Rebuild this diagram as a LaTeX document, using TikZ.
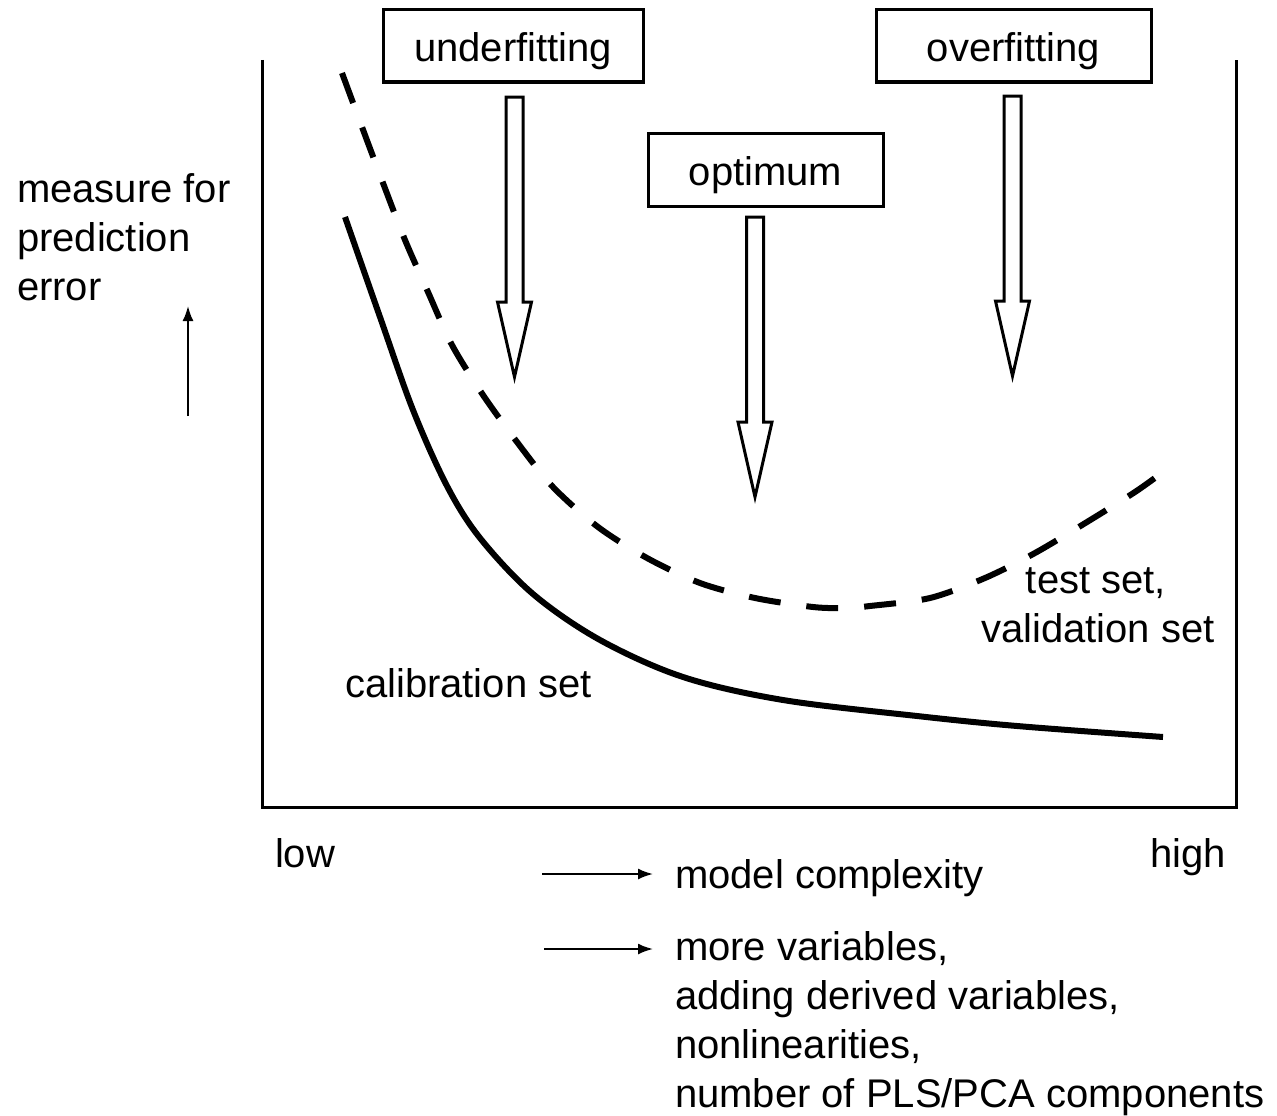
\documentclass[tikz,border=0pt]{standalone}
\usepackage{fontspec}
\setmainfont{Liberation Sans}
\usetikzlibrary{arrows.meta}
\tikzset{
  lbl/.style={anchor=base west, inner sep=0pt, outer sep=0pt},
  clbl/.style={anchor=base, inner sep=0pt, outer sep=0pt},
  tagbox/.style={draw, line width=3pt, inner sep=0pt, text height=32pt, text depth=0pt},
  frameline/.style={line width=3pt, line join=miter},
  blk/.style={line width=3pt, line join=miter, fill=white},
  thinarrow/.style={line width=2pt, -{Latex[length=15pt,width=11pt]}},
  calib/.style={line width=6pt},
  testcurve/.style={line width=6pt, dash pattern=on 32pt off 26pt},
}
\newcommand{\hollowarrow}[1]{%
  \draw[blk] (#1) ++(-8.5,0) -- ++(17,0) -- ++(0,205) -- ++(8.5,0)
    -- ++(-17,75) -- ++(-17,-75) -- ++(8.5,0) -- cycle;}
\begin{document}
\begin{tikzpicture}[x=1pt, y=-1pt, font=\fontsize{40}{49}\selectfont]
\useasboundingbox[fill=white] (0,0) rectangle (1277,1116);

% frame
\coordinate (ftl) at (262,60);
\coordinate (fbl) at (262,807);
\coordinate (fbr) at (1236,807);
\coordinate (ftr) at (1236,60);
\draw[frameline] (ftl) -- (fbl) -- (fbr) -- (ftr);

% boxes
\node[tagbox, minimum width=260pt, minimum height=72pt] (uf) at (513,46) {underfitting};
\node[tagbox, minimum width=235pt, minimum height=73pt] (op) at (765.5,169.5) {optimum};
\node[tagbox, minimum width=275pt, minimum height=72pt] (of) at (1013.5,46) {overfitting};

% hollow arrows
\coordinate (ufA) at (514.5,97);
\coordinate (opA) at (755,217);
\coordinate (ofA) at (1012.5,96);
\hollowarrow{ufA}
\hollowarrow{opA}
\hollowarrow{ofA}

% curves
\draw[testcurve] plot[smooth, tension=0.5] coordinates {
  (342,73) (362,127) (383,183) (405,240) (428,292) (452,345) (483,395)
  (517,442) (553,487) (598,527) (647,558) (700,583) (755,598) (813,607)
  (845,608) (870,606) (930,598) (985,578) (1035,553) (1087,522)
  (1135,492) (1163,472)};
\draw[calib] plot[smooth, tension=0.55] coordinates {
  (345,217) (380,317) (413,410) (447,486) (480,538) (533,594) (600,640)
  (683,677) (783,700) (917,716) (1017,726) (1163,737)};

% y label
\node[lbl] (m1) at (17,202) {measure for};
\node[lbl] (m2) at (17,251) {prediction};
\node[lbl] (m3) at (17,300) {error};
\coordinate (yA0) at (188,416);
\coordinate (yA1) at (188,306);
\draw[thinarrow] (yA0) -- (yA1);

% curve labels
\node[lbl] (cal) at (345,697) {calibration set};
\node[clbl] (ts1) at (1096,593) {test set,};
\node[clbl] (ts2) at (1098,642) {validation set};

% x labels
\node[lbl] (low) at (275,867) {low};
\node[lbl] (high) at (1150,867) {high};
\node[lbl] (mc) at (675,888) {model complexity};
\node[lbl] (mv1) at (675,960) {more variables,};
\node[lbl] (mv2) at (675,1009) {adding derived variables,};
\node[lbl] (mv3) at (675,1058) {nonlinearities,};
\node[lbl] (mv4) at (675,1107) {number of PLS/PCA components};
\coordinate (xa0) at (542,874);
\coordinate (xa1) at (653,874);
\coordinate (xb0) at (544,949);
\coordinate (xb1) at (653,949);
\draw[thinarrow] (xa0) -- (xa1);
\draw[thinarrow] (xb0) -- (xb1);
\end{tikzpicture}
\end{document}
